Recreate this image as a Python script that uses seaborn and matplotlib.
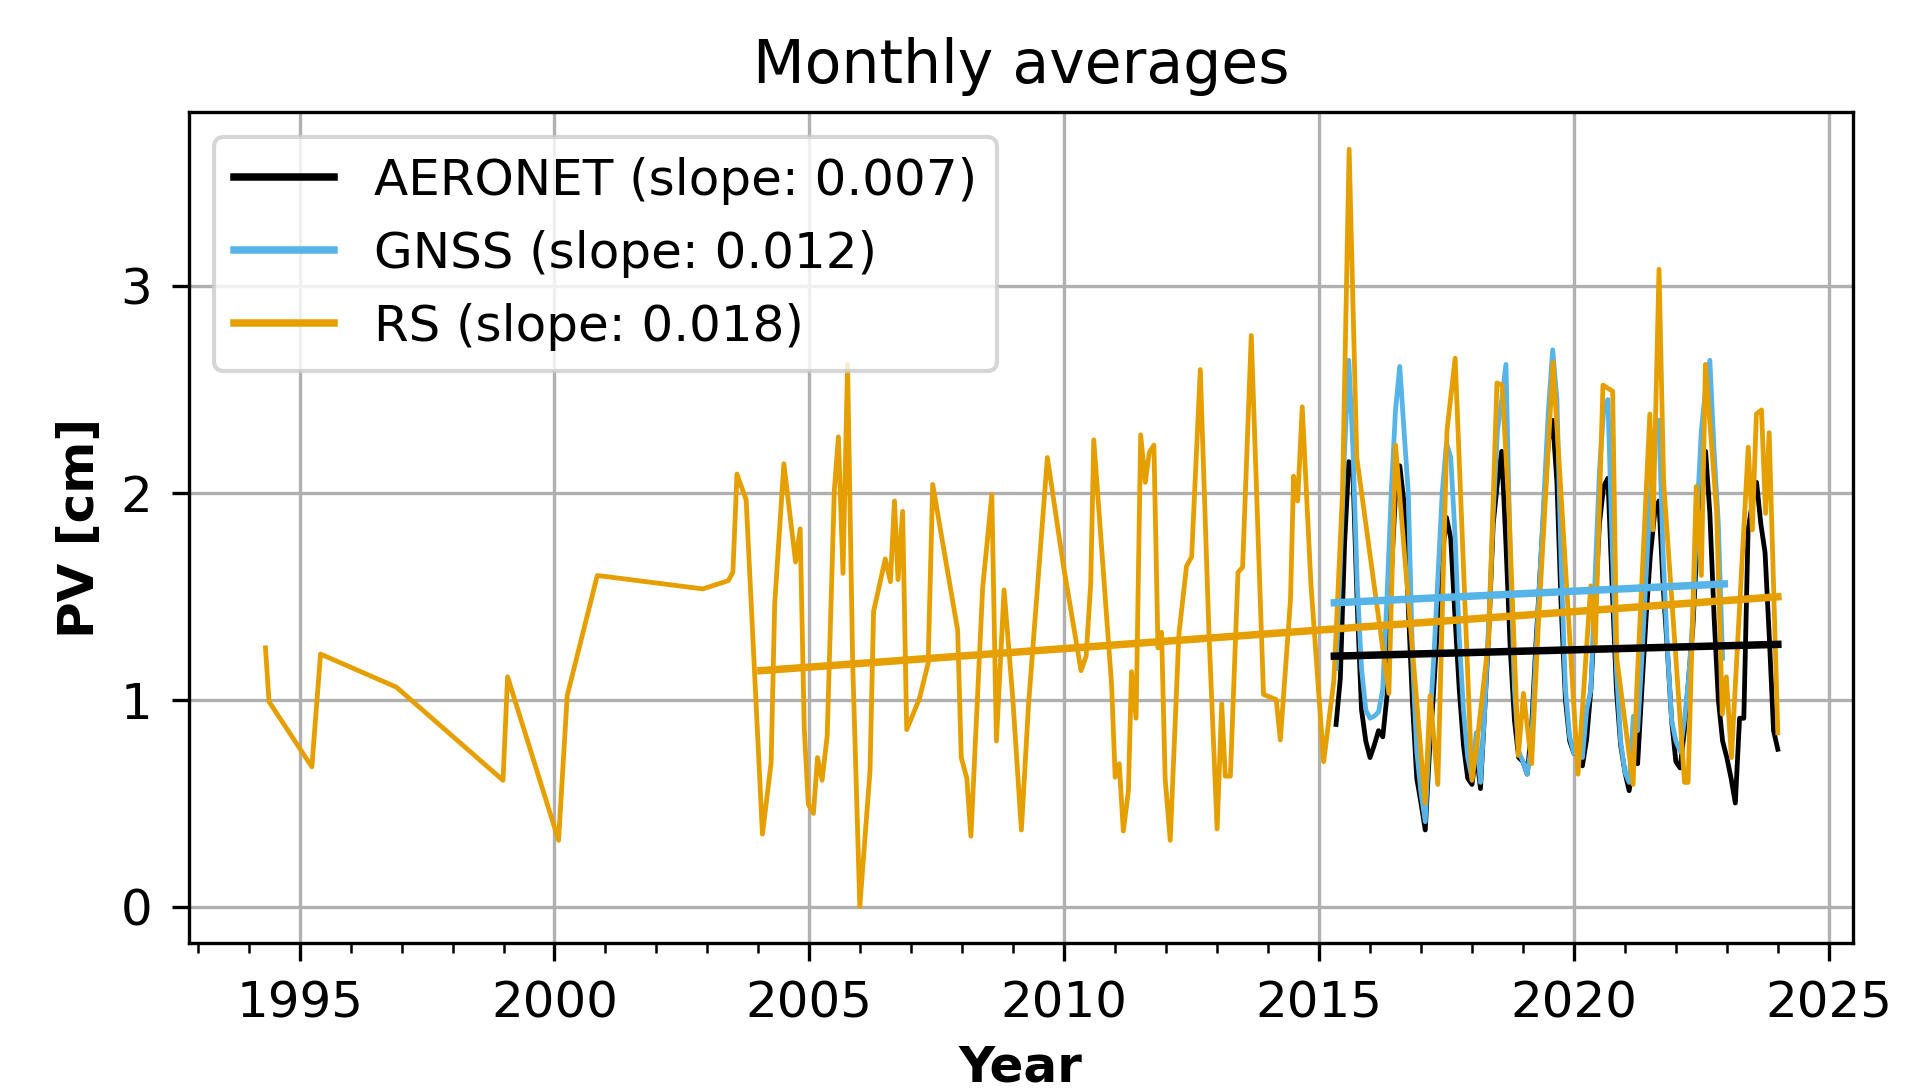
import numpy as np
import pandas as pd
import matplotlib
matplotlib.use("Agg")
import matplotlib.pyplot as plt
from matplotlib.ticker import MultipleLocator
import seaborn as sns

# ---------------- data ----------------
# AERONET monthly means, May 2015 .. Jan 2024
aeronet_start = "2015-05"
aeronet_pv = [
    0.88, 1.10, 1.75, 2.15, 2.08, 1.45, 0.95, 0.80,                     # 2015
    0.72, 0.78, 0.85, 0.82, 1.02, 1.60, 2.00, 2.13, 1.95, 1.45, 0.98, 0.62,  # 2016
    0.50, 0.37, 0.75, 1.05, 1.40, 1.70, 1.88, 1.78, 1.40, 1.05, 0.78, 0.62,  # 2017
    0.59, 0.75, 0.57, 0.95, 1.35, 1.85, 2.05, 2.20, 1.75, 1.25, 0.90, 0.72,  # 2018
    0.70, 0.64, 0.85, 1.25, 1.60, 1.95, 2.25, 2.35, 2.05, 1.45, 1.00, 0.80,  # 2019
    0.74, 0.78, 0.68, 0.81, 1.05, 1.45, 1.85, 2.03, 2.07, 1.55, 1.05, 0.78,  # 2020
    0.65, 0.56, 0.70, 0.69, 1.05, 1.40, 1.70, 1.90, 1.96, 1.55, 1.24, 0.90,  # 2021
    0.70, 0.67, 0.85, 1.10, 1.35, 1.75, 2.00, 2.20, 1.90, 1.40, 1.00, 0.80,  # 2022
    0.72, 0.62, 0.50, 0.91, 0.91, 1.82, 1.95, 2.05, 1.85, 1.71, 1.30, 0.85,  # 2023
    0.76,                                                                  # 2024
]

# GNSS monthly means, May 2015 .. Dec 2022
gnss_start = "2015-05"
gnss_pv = [
    1.15, 1.65, 2.20, 2.64, 2.20, 1.55, 1.15, 0.95,                     # 2015
    0.91, 0.92, 0.94, 1.05, 1.50, 2.00, 2.40, 2.61, 2.30, 2.00, 1.20, 0.75,  # 2016
    0.55, 0.41, 0.85, 1.20, 1.60, 2.00, 2.24, 2.17, 1.80, 1.30, 0.95, 0.72,  # 2017
    0.62, 0.84, 0.60, 0.95, 1.40, 1.90, 2.30, 2.45, 2.62, 1.70, 1.05, 0.75,  # 2018
    0.70, 0.64, 0.78, 1.20, 1.60, 2.00, 2.40, 2.69, 2.45, 1.65, 1.05, 0.82,  # 2019
    0.74, 0.78, 0.72, 0.95, 1.05, 1.60, 2.10, 2.40, 2.45, 1.75, 1.15, 0.80,  # 2020
    0.65, 0.60, 0.92, 0.85, 1.20, 1.60, 2.00, 2.30, 2.35, 1.70, 1.25, 0.90,  # 2021
    0.80, 0.75, 0.90, 1.10, 1.40, 1.90, 2.30, 2.50, 2.64, 2.20, 1.85, 1.20,  # 2022
]

# Radiosonde (RS) monthly means, irregular coverage (decimal year, PV)
rs_year = [
    1994.33, 1994.40, 1995.24, 1995.41, 1996.90, 1998.99, 1999.08, 2000.08,
    2000.25, 2000.84, 2002.91, 2003.41, 2003.50, 2003.58, 2003.76, 2004.08,
    2004.25, 2004.32, 2004.50, 2004.73, 2004.82, 2004.90, 2004.98, 2005.08,
    2005.16, 2005.25, 2005.35, 2005.49, 2005.57, 2005.66, 2005.75, 2005.85,
    2005.99, 2006.19, 2006.26, 2006.49, 2006.59, 2006.67, 2006.74, 2006.83,
    2006.91, 2007.16, 2007.33, 2007.42, 2007.91, 2007.98, 2008.09, 2008.17,
    2008.40, 2008.58, 2008.67, 2008.82, 2008.99, 2009.16, 2009.30, 2009.67,
    2009.98, 2010.33, 2010.43, 2010.52, 2010.58, 2010.93, 2011.00, 2011.08,
    2011.16, 2011.26, 2011.32, 2011.41, 2011.50, 2011.59, 2011.67, 2011.76,
    2011.84, 2011.91, 2011.98, 2012.08, 2012.25, 2012.40, 2012.50, 2012.67,
    2012.84, 2013.00, 2013.09, 2013.16, 2013.26, 2013.41, 2013.50, 2013.67,
    2013.91, 2014.16, 2014.24, 2014.44, 2014.50, 2014.58, 2014.67, 2014.84,
    2015.09, 2015.29, 2015.46, 2015.59, 2015.74, 2016.37, 2016.50, 2017.08,
    2017.18, 2017.33, 2017.51, 2017.67, 2018.00, 2018.08, 2018.33, 2018.49,
    2018.59, 2018.72, 2018.91, 2019.01, 2019.17, 2019.30, 2019.59, 2020.08,
    2020.33, 2020.42, 2020.57, 2020.76, 2020.84, 2021.16, 2021.24, 2021.49,
    2021.55, 2021.67, 2021.76, 2022.17, 2022.24, 2022.40, 2022.50, 2022.58,
    2022.80, 2022.91, 2022.99, 2023.09, 2023.42, 2023.50, 2023.58, 2023.68,
    2023.76, 2023.83, 2024.00,
]
rs_pv = [
    1.25, 0.99, 0.675, 1.22, 1.06, 0.61, 1.11, 0.32,
    1.02, 1.60, 1.535, 1.575, 1.615, 2.09, 1.965, 0.35,
    0.695, 1.46, 2.14, 1.665, 1.825, 0.86, 0.495, 0.45,
    0.72, 0.61, 0.825, 2.01, 2.27, 1.61, 2.62, 1.18,
    0.0, 0.655, 1.425, 1.68, 1.57, 1.96, 1.58, 1.91,
    0.855, 1.005, 1.175, 2.04, 1.335, 0.72, 0.62, 0.34,
    1.54, 1.99, 0.80, 1.53, 1.01, 0.37, 0.975, 2.17,
    1.655, 1.14, 1.21, 1.56, 2.255, 1.07, 0.625, 0.69,
    0.365, 0.56, 1.135, 0.91, 2.28, 2.05, 2.195, 2.23,
    1.25, 1.325, 0.62, 0.32, 1.315, 1.645, 1.69, 2.595,
    1.32, 0.375, 0.98, 0.63, 0.63, 1.615, 1.64, 2.76,
    1.025, 1.00, 0.805, 1.485, 2.08, 1.96, 2.415, 1.56,
    0.70, 1.09, 2.00, 3.66, 2.17, 1.03, 2.23, 0.50,
    1.02, 0.59, 2.30, 2.65, 0.61, 0.75, 1.30, 2.53,
    2.52, 1.95, 0.73, 1.03, 0.69, 1.35, 2.63, 0.64,
    1.55, 1.27, 2.52, 2.49, 1.20, 0.59, 1.09, 2.38,
    1.82, 3.08, 2.05, 0.60, 0.60, 2.03, 1.60, 2.62,
    1.91, 0.93, 1.11, 0.72, 2.22, 1.82, 2.38, 2.40,
    1.90, 2.29, 0.84,
]

# Linear trend lines (end points)
aeronet_trend_year = [2015.30, 2024.00]
aeronet_trend_pv = [1.210, 1.267]
gnss_trend_year = [2015.30, 2022.95]
gnss_trend_pv = [1.468, 1.559]
rs_trend_year = [2004.05, 2024.00]
rs_trend_pv = [1.140, 1.497]

series_names = ["AERONET", "GNSS", "RS"]
slopes = ["0.007", "0.012", "0.018"]
colors = ["#000000", "#56B4E9", "#E69F00"]


def decimal_year(start, n):
    d = pd.date_range(start, periods=n, freq="MS")
    return (d.year + (d.month - 1) / 12.0).to_numpy()


aeronet_year = decimal_year(aeronet_start, len(aeronet_pv))
gnss_year = decimal_year(gnss_start, len(gnss_pv))

# ---------------- plot ----------------
plt.rcParams["font.family"] = ["DejaVu Sans"]
plt.rcParams["font.size"] = 12

fig = plt.figure(figsize=(6.36, 3.63), dpi=300)
ax = fig.add_axes([0.0988, 0.1341, 0.9713 - 0.0988, 0.8972 - 0.1341])

data_sets = [
    (aeronet_year, aeronet_pv, aeronet_trend_year, aeronet_trend_pv),
    (gnss_year, gnss_pv, gnss_trend_year, gnss_trend_pv),
    (np.array(rs_year), rs_pv, rs_trend_year, rs_trend_pv),
]

for (x, y, tx, ty), c in zip(data_sets, colors):
    sns.lineplot(x=x, y=y, ax=ax, color=c, lw=1.15, estimator=None, sort=False)

handles = []
for (x, y, tx, ty), c, name, s in zip(data_sets, colors, series_names, slopes):
    sns.lineplot(x=tx, y=ty, ax=ax, color=c, lw=1.8, estimator=None, sort=False)
    handles.append(ax.lines[-1])
    handles[-1].set_label(f"{name} (slope: {s})")

ax.set_axisbelow(True)
ax.grid(True, color="#b0b0b0", lw=0.8)
ax.xaxis.set_minor_locator(MultipleLocator(1))
ax.set_xticks([1995, 2000, 2005, 2010, 2015, 2020, 2025])
ax.set_yticks([0, 1, 2, 3])
ax.set_xlim(1992.82, 2025.48)
ax.set_ylim(-0.176, 3.84)
ax.tick_params(which="major", length=4.2, width=0.8, pad=4.5)
ax.tick_params(which="minor", length=2.4, width=0.6)
for sp in ax.spines.values():
    sp.set_color("black")
    sp.set_linewidth(0.8)

ax.set_title("Monthly averages", fontsize=14.4, pad=7)
ax.set_xlabel("Year", fontweight="bold", labelpad=4.0)
ax.set_ylabel("PV [cm]", fontweight="bold")
ax.legend(handles=handles, labels=[h.get_label() for h in handles], loc="upper left")

fig.savefig("out.png", dpi=300)
